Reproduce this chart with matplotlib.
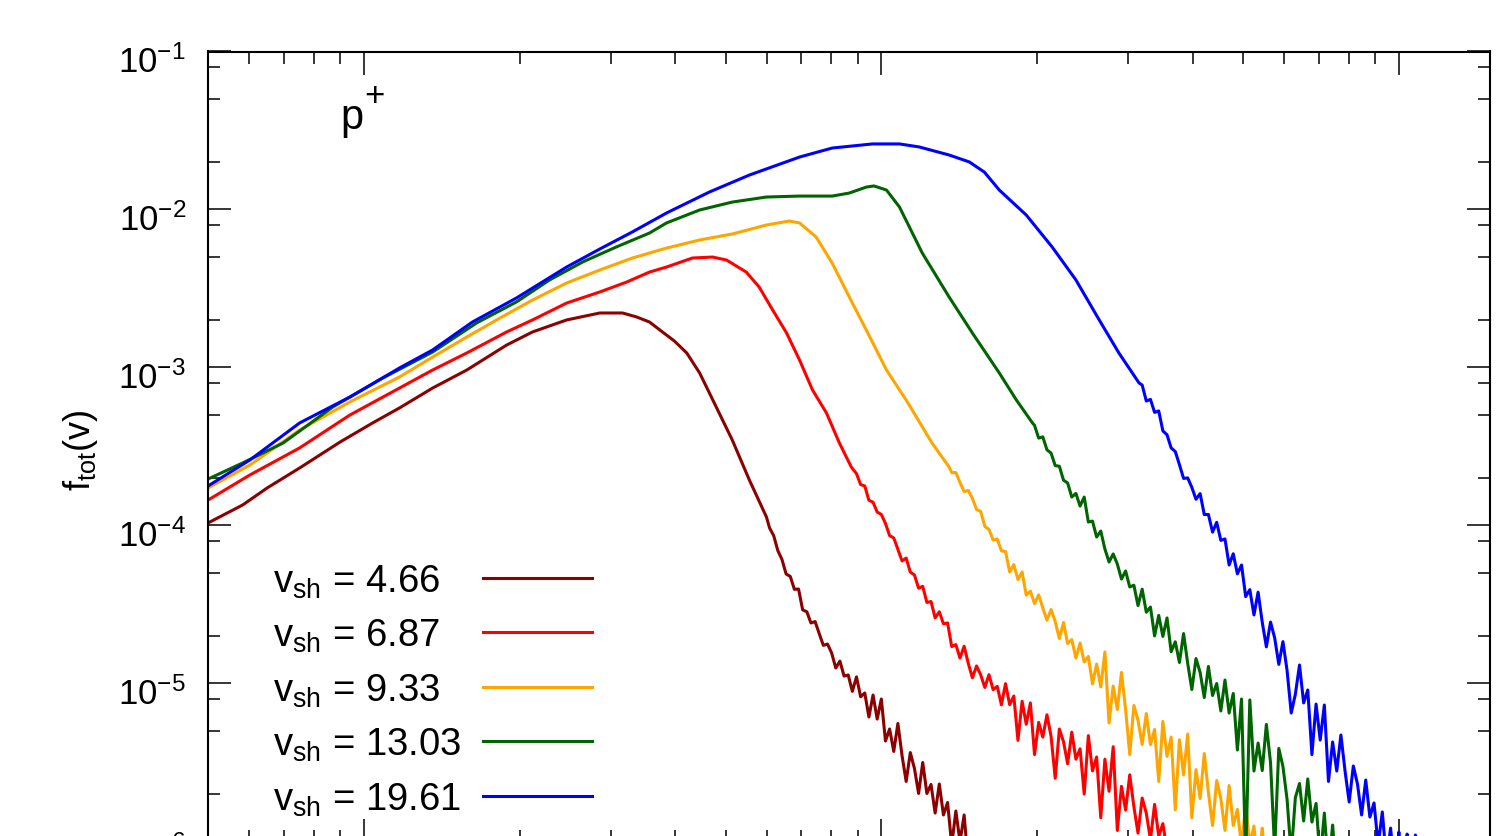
import matplotlib
matplotlib.use('Agg')
import matplotlib.pyplot as plt
import numpy as np
from matplotlib.ticker import LogLocator, NullFormatter
from matplotlib.lines import Line2D
from matplotlib.transforms import blended_transform_factory, ScaledTranslation

plt.rcParams['font.family'] = ['Liberation Sans', 'DejaVu Sans']
plt.rcParams['mathtext.fontset'] = 'custom'
plt.rcParams['mathtext.rm'] = 'Liberation Sans'
plt.rcParams['mathtext.it'] = 'Liberation Sans:italic'
plt.rcParams['mathtext.bf'] = 'Liberation Sans:bold'
plt.rcParams['mathtext.sf'] = 'Liberation Sans'
plt.rcParams['axes.unicode_minus'] = False

# ---------------- data (log10 of v and of f_tot(v)) ----------------
labels = ['4.66', '6.87', '9.33', '13.03', '19.61']
colors = ['#8b0000', '#ff0000', '#ffa500', '#006400', '#0000ff']
ytick_exps = [-1, -2, -3, -4, -5, -6]

lgv_466 = [-0.301, -0.234, -0.187, -0.124, -0.046, 0.017, 0.069, 0.133, 0.199, 0.276,
           0.326, 0.392, 0.456, 0.500, 0.527, 0.552, 0.577, 0.600, 0.624, 0.649,
           0.681, 0.712, 0.745, 0.778,
           0.784, 0.792, 0.800, 0.808, 0.816, 0.824, 0.832, 0.840, 0.848, 0.856,
           0.864, 0.872, 0.880, 0.888, 0.896, 0.904, 0.912, 0.920, 0.928, 0.936,
           0.944, 0.952, 0.960, 0.968, 0.976, 0.984, 0.992, 1.000, 1.008, 1.016,
           1.024, 1.032, 1.040, 1.048, 1.056, 1.064, 1.072, 1.080, 1.088, 1.096,
           1.104, 1.112, 1.120, 1.128, 1.136, 1.144, 1.152, 1.160, 1.168, 1.176,
           1.184, 1.192]
lgf_466 = [-3.984, -3.870, -3.763, -3.636, -3.472, -3.351, -3.256, -3.130, -3.016, -2.858,
           -2.775, -2.699, -2.655, -2.655, -2.680, -2.712, -2.775, -2.832, -2.908, -3.035,
           -3.250, -3.459, -3.712, -3.946,
           -4.015, -4.064, -4.159, -4.215, -4.307, -4.322, -4.404, -4.402, -4.534, -4.546,
           -4.617, -4.608, -4.684, -4.759, -4.750, -4.807, -4.902, -4.858, -4.953, -4.946,
           -5.050, -4.958, -5.084, -5.060, -5.212, -5.073, -5.225, -5.098, -5.364, -5.288,
           -5.430, -5.253, -5.456, -5.620, -5.437, -5.538, -5.696, -5.500, -5.696, -5.639,
           -5.820, -5.636, -5.832, -5.753, -6.022, -5.807, -6.003, -5.832, -6.142, -6.060,
           -6.170, -6.250]

lgv_687 = [-0.301, -0.220, -0.124, -0.027, 0.069, 0.133, 0.199, 0.276, 0.326, 0.392,
           0.456, 0.508, 0.552, 0.585, 0.635, 0.674, 0.701, 0.739, 0.764, 0.790,
           0.817, 0.842, 0.867, 0.894, 0.919, 0.942,
           0.952, 0.960, 0.968, 0.976, 0.984, 0.992, 1.000, 1.008, 1.016, 1.024,
           1.032, 1.040, 1.048, 1.056, 1.064, 1.072, 1.080, 1.088, 1.096, 1.104,
           1.112, 1.120, 1.128, 1.136, 1.144, 1.152, 1.160, 1.168, 1.176, 1.184,
           1.192, 1.200, 1.208, 1.216, 1.224, 1.232, 1.240, 1.248, 1.256, 1.264,
           1.272, 1.280, 1.288, 1.296, 1.304, 1.312, 1.320, 1.328, 1.336, 1.344,
           1.352, 1.360, 1.368, 1.376, 1.384, 1.392, 1.400, 1.408, 1.416, 1.424,
           1.432, 1.440, 1.448, 1.456, 1.464, 1.472, 1.480, 1.488, 1.496, 1.504,
           1.512, 1.520, 1.528, 1.536, 1.544, 1.552, 1.560, 1.568]
lgf_687 = [-3.839, -3.680, -3.509, -3.301, -3.130, -3.016, -2.908, -2.775, -2.699, -2.592,
           -2.522, -2.459, -2.396, -2.364, -2.307, -2.301, -2.320, -2.396, -2.491, -2.636,
           -2.782, -2.953, -3.142, -3.288, -3.478, -3.630,
           -3.672, -3.741, -3.750, -3.840, -3.853, -3.915, -3.930, -3.987, -4.064, -4.079,
           -4.151, -4.224, -4.206, -4.295, -4.313, -4.397, -4.385, -4.487, -4.481, -4.585,
           -4.546, -4.622, -4.617, -4.766, -4.754, -4.839, -4.764, -4.872, -4.964, -4.889,
           -4.945, -5.025, -4.944, -5.039, -5.018, -5.135, -5.001, -5.134, -5.079, -5.360,
           -5.112, -5.258, -5.123, -5.450, -5.246, -5.339, -5.198, -5.335, -5.600, -5.288,
           -5.368, -5.508, -5.308, -5.479, -5.413, -5.700, -5.330, -5.553, -5.465, -5.850,
           -5.479, -5.682, -5.400, -5.930, -5.651, -5.801, -5.578, -5.780, -5.947, -5.725,
           -5.821, -5.988, -5.765, -5.967, -5.887, -6.054, -6.180, -6.250]

lgv_933 = [-0.301, -0.220, -0.124, -0.027, 0.069, 0.133, 0.199, 0.263, 0.326, 0.392,
           0.456, 0.519, 0.585, 0.649, 0.712, 0.778, 0.822, 0.842, 0.874, 0.905,
           0.944, 0.971, 1.010, 1.048, 1.098, 1.131,
           1.136, 1.144, 1.152, 1.160, 1.168, 1.176, 1.184, 1.192, 1.200, 1.208,
           1.216, 1.224, 1.232, 1.240, 1.248, 1.256, 1.264, 1.272, 1.280, 1.288,
           1.296, 1.304, 1.312, 1.320, 1.328, 1.336, 1.344, 1.352, 1.360, 1.368,
           1.376, 1.384, 1.392, 1.400, 1.408, 1.416, 1.424, 1.432, 1.440, 1.448,
           1.456, 1.464, 1.472, 1.480, 1.488, 1.496, 1.504, 1.512, 1.520, 1.528,
           1.536, 1.544, 1.552, 1.560, 1.568, 1.576, 1.584, 1.592, 1.600, 1.608,
           1.616, 1.624, 1.632, 1.640, 1.648, 1.656, 1.664, 1.672, 1.680, 1.688,
           1.696, 1.704, 1.712, 1.720, 1.728, 1.736, 1.744, 1.752]
lgf_933 = [-3.763, -3.617, -3.396, -3.218, -3.060, -2.934, -2.807, -2.687, -2.573, -2.465,
           -2.383, -2.307, -2.244, -2.193, -2.155, -2.098, -2.073, -2.085, -2.174, -2.339,
           -2.592, -2.763, -3.016, -3.206, -3.478, -3.630,
           -3.665, -3.665, -3.728, -3.785, -3.778, -3.829, -3.899, -3.911, -4.006, -4.025,
           -4.092, -4.085, -4.160, -4.165, -4.294, -4.247, -4.342, -4.294, -4.441, -4.416,
           -4.494, -4.439, -4.522, -4.599, -4.532, -4.608, -4.715, -4.614, -4.747, -4.722,
           -4.839, -4.744, -4.864, -4.829, -5.003, -4.877, -5.022, -4.800, -5.250, -5.016,
           -5.165, -4.930, -5.165, -5.450, -5.139, -5.234, -5.386, -5.190, -5.387, -5.291,
           -5.620, -5.240, -5.461, -5.339, -5.800, -5.356, -5.578, -5.320, -5.850, -5.545,
           -5.728, -5.443, -5.690, -5.899, -5.614, -5.728, -5.930, -5.646, -5.899, -5.797,
           -6.035, -5.763, -6.022, -5.902, -6.180, -5.915, -6.240, -6.300]

lgv_1303 = [-0.301, -0.234, -0.156, -0.060, 0.037, 0.133, 0.218, 0.295, 0.359, 0.423,
            0.488, 0.552, 0.585, 0.649, 0.712, 0.778, 0.842, 0.905, 0.938, 0.971,
            0.986, 1.010, 1.035, 1.060, 1.079, 1.131, 1.176, 1.228, 1.261, 1.292,
            1.296, 1.304, 1.312, 1.320, 1.328, 1.336, 1.344, 1.352, 1.360, 1.368,
            1.376, 1.384, 1.392, 1.400, 1.408, 1.416, 1.424, 1.432, 1.440, 1.448,
            1.456, 1.464, 1.472, 1.480, 1.488, 1.496, 1.504, 1.512, 1.520, 1.528,
            1.536, 1.544, 1.552, 1.560, 1.568, 1.576, 1.584, 1.592, 1.600, 1.608,
            1.616, 1.624, 1.632, 1.640, 1.648, 1.656, 1.664, 1.672, 1.680, 1.688,
            1.696, 1.704, 1.712, 1.720, 1.728, 1.736, 1.744, 1.752, 1.760, 1.768,
            1.776, 1.784, 1.792, 1.800, 1.808, 1.816, 1.824, 1.832, 1.840, 1.848,
            1.856, 1.864, 1.872, 1.880, 1.888]
lgf_1303 = [-3.706, -3.604, -3.478, -3.250, -3.066, -2.902, -2.718, -2.585, -2.446, -2.332,
            -2.237, -2.149, -2.085, -2.003, -1.953, -1.921, -1.915, -1.915, -1.896, -1.858,
            -1.851, -1.877, -1.984, -2.149, -2.275, -2.554, -2.782, -3.035, -3.206, -3.351,
            -3.366, -3.447, -3.439, -3.521, -3.542, -3.621, -3.625, -3.713, -3.731, -3.820,
            -3.797, -3.877, -3.820, -3.978, -3.972, -4.073, -4.035, -4.149, -4.231, -4.180,
            -4.244, -4.339, -4.288, -4.389, -4.378, -4.507, -4.403, -4.549, -4.516, -4.699,
            -4.569, -4.702, -4.585, -4.799, -4.736, -4.867, -4.684, -4.873, -5.038, -4.842,
            -4.930, -5.089, -4.892, -5.076, -5.000, -5.174, -4.978, -5.187, -5.063, -5.421,
            -5.098, -6.117, -5.104, -5.554, -5.377, -5.551, -5.259, -5.500, -6.054, -5.411,
            -5.525, -5.734, -6.085, -5.722, -5.633, -5.870, -5.604, -5.877, -5.759, -6.117,
            -5.820, -6.180, -5.896, -6.240, -6.300]

lgv_1961 = [-0.301, -0.220, -0.124, -0.027, 0.069, 0.133, 0.210, 0.295, 0.392, 0.456,
            0.519, 0.585, 0.668, 0.745, 0.842, 0.905, 0.983, 1.035, 1.073, 1.131,
            1.170, 1.199, 1.228, 1.280, 1.330, 1.376, 1.421, 1.459, 1.498,
            1.504, 1.512, 1.520, 1.528, 1.536, 1.544, 1.552, 1.560, 1.568, 1.576,
            1.584, 1.592, 1.600, 1.608, 1.616, 1.624, 1.632, 1.640, 1.648, 1.656,
            1.664, 1.672, 1.680, 1.688, 1.696, 1.704, 1.712, 1.720, 1.728, 1.736,
            1.744, 1.752, 1.760, 1.768, 1.776, 1.784, 1.792, 1.800, 1.808, 1.816,
            1.824, 1.832, 1.840, 1.848, 1.856, 1.864, 1.872, 1.880, 1.888, 1.896,
            1.904, 1.912, 1.920, 1.928, 1.936, 1.944, 1.952, 1.960, 1.968, 1.976,
            1.984, 1.992, 2.000, 2.008, 2.016, 2.024, 2.032, 2.040, 2.048, 2.056]
lgf_1961 = [-3.750, -3.585, -3.351, -3.187, -3.003, -2.889, -2.712, -2.560, -2.364, -2.250,
            -2.142, -2.022, -1.889, -1.782, -1.668, -1.611, -1.585, -1.585, -1.604, -1.655,
            -1.699, -1.763, -1.877, -2.035, -2.237, -2.446, -2.699, -2.908, -3.098,
            -3.111, -3.212, -3.202, -3.284, -3.275, -3.401, -3.426, -3.509, -3.532, -3.615,
            -3.702, -3.699, -3.759, -3.834, -3.798, -3.931, -3.930, -4.042, -3.980, -4.094,
            -4.085, -4.250, -4.179, -4.306, -4.250, -4.450, -4.406, -4.566, -4.422, -4.612,
            -4.768, -4.611, -4.711, -4.879, -4.735, -4.918, -5.187, -5.068, -4.883, -5.123,
            -5.041, -5.450, -5.130, -5.358, -5.136, -5.620, -5.370, -5.554, -5.326, -5.554,
            -5.750, -5.522, -5.636, -5.832, -5.611, -5.845, -5.756, -6.022, -5.813, -6.117,
            -5.915, -6.180, -5.940, -6.240, -5.953, -6.300, -5.959, -6.370, -5.980, -6.430]

series = [(lgv_466, lgf_466), (lgv_687, lgf_687), (lgv_933, lgf_933),
          (lgv_1303, lgf_1303), (lgv_1961, lgf_1961)]

# ---------------- figure ----------------
W, H = 1512, 836
fig = plt.figure(figsize=(W / 100, H / 100), dpi=100)
ax = fig.add_axes([208 / W, (H - 841.5) / H, 1282 / W, 790 / H])

for (lv, lf), col in zip(series, colors):
    ax.plot(10 ** np.array(lv), 10 ** np.array(lf), color=col, lw=2.2)

ax.set_xscale('log')
ax.set_yscale('log')
ax.set_xlim(0.5, 150)
ax.set_ylim(1e-6, 1e-1)
ax.xaxis.set_major_locator(LogLocator(base=10, subs=(1.0,)))
ax.xaxis.set_minor_locator(LogLocator(base=10, subs=(2, 3, 4, 5, 6, 7, 8, 9), numticks=20))
ax.yaxis.set_major_locator(LogLocator(base=10, subs=(1.0,), numticks=20))
ax.yaxis.set_minor_locator(LogLocator(base=10, subs=(2, 5, 8), numticks=20))
ax.xaxis.set_minor_formatter(NullFormatter())
ax.yaxis.set_minor_formatter(NullFormatter())

ax.tick_params(which='both', direction='in', top=True, right=True, width=1.1, colors='black',
               labelleft=False, labelbottom=False)
ax.tick_params(which='major', length=16.5)
ax.tick_params(which='minor', length=8.8)
for sp in ax.spines.values():
    sp.set_linewidth(1.5)

# y tick labels, gnuplot style (mantissa centred a bit below the tick)
ytr = blended_transform_factory(ax.transAxes, ax.transData) + \
    ScaledTranslation(-0.22, -0.21, fig.dpi_scale_trans)
for e in ytick_exps:
    ax.text(0, 10.0 ** e, r'10$^{%d}$' % e, transform=ytr, ha='right', va='baseline',
            fontsize=25, clip_on=False)

# y label
fig.text(80 / W, 1 - 450 / H, r'f$_{\rm tot}$(v)', rotation=90, ha='center', va='center',
         fontsize=26)
# species label
fig.text(340 / W, 1 - 129 / H, 'p', fontsize=30, va='baseline', ha='left')
fig.text(364 / W, 1 - 106 / H, '+', fontsize=25, va='baseline', ha='left')

# legend (manual, gnuplot style)
leg_y = [578, 632, 687, 741, 796]
for lab, col, yy in zip(labels, colors, leg_y):
    fig.text(273 / W, 1 - (yy + 15) / H, r'v$_{\rm sh}$ = ' + lab, fontsize=27.5,
             va='baseline', ha='left')
    fig.add_artist(Line2D([483 / W, 592 / W], [1 - yy / H, 1 - yy / H], color=col, lw=2.2))

fig.savefig('out.png', dpi=100)
